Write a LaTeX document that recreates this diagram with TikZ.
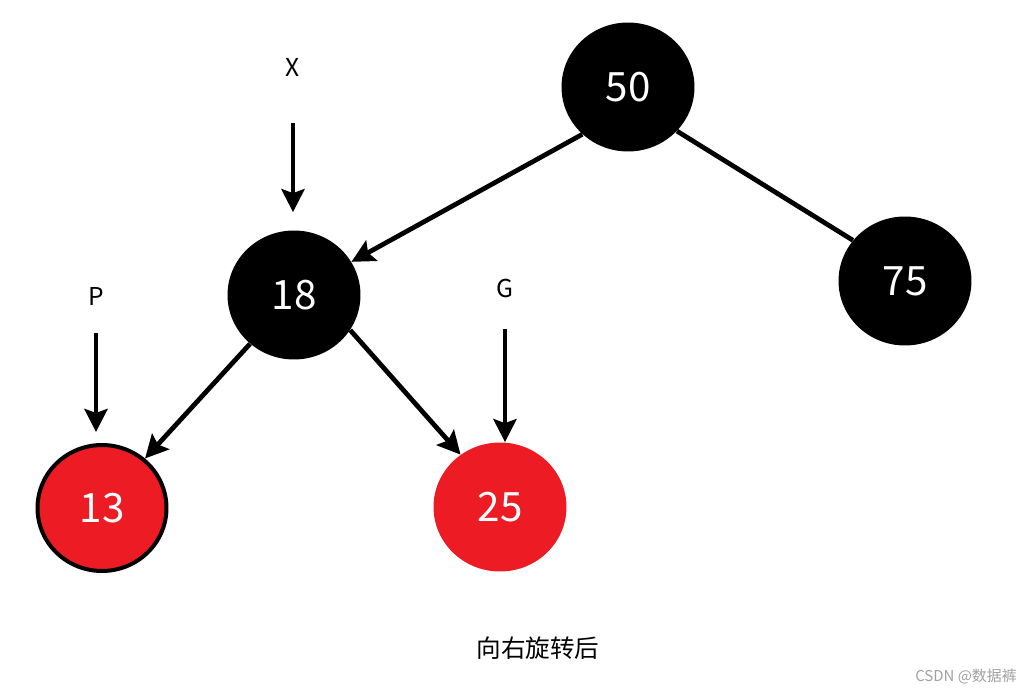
\documentclass[tikz,border=0pt]{standalone}
\usepackage{fontspec}
\setmainfont{Noto Sans CJK SC}
\usetikzlibrary{arrows.meta,positioning,shapes.geometric}
\definecolor{nodered}{HTML}{ED1C24}
\definecolor{wmgray}{HTML}{A0A0A0}

\begin{document}
\begin{tikzpicture}[x=0.02cm,y=-0.02cm,
    blk/.style={ellipse,fill=black,inner sep=0pt,minimum width=2.66cm,minimum height=2.58cm,
      text=white,font=\fontsize{23}{23}\selectfont},
    rednode/.style={blk,fill=nodered},
    ptr/.style={-{Stealth[length=0.46cm,width=0.46cm,inset=0.08cm]},line width=0.095cm},
    lbl/.style={font=\fontsize{14}{14}\selectfont}]
  \useasboundingbox (0,0) rectangle (1028,695);
  % tree after the right rotation
  \node[blk] (n50) at (628,87) {50};
  \node[blk] (n18) at (294,295) {18};
  \node[blk] (n75) at (905,281) {75};
  \node[rednode,draw=black,line width=0.08cm,minimum width=2.58cm,minimum height=2.52cm] (n13) at (102,508) {13};
  \node[rednode] (n25) at (500,507) {25};
  \draw[ptr] (n50.226) -- (n18.30);
  \draw[line width=0.095cm] (n50.-42) -- (n75.142);
  \draw[ptr] (n18.-132) -- (n13.49);
  \draw[ptr] (n18.-32) -- (n25.127);
  % pointer labels
  \node[lbl] (xl) at (293,67) {X};
  \node[lbl] (pl) at (96,296) {P};
  \node[lbl] (gl) at (505,288) {G};
  \draw[ptr,shorten <=0.82cm,shorten >=0.36cm] (xl) -- (xl |- n18.north);
  \draw[ptr,shorten <=0.44cm,shorten >=0.22cm] (pl) -- (pl |- n13.north);
  \draw[ptr,shorten <=0.5cm] (gl) -- (gl |- n25.north);
  \node[font=\fontsize{14}{14}\selectfont] (cap) at (538,648) {向右旋转后};
  \node[text=wmgray,font=\fontsize{8.5}{8.5}\selectfont] (wm) at (966,677) {CSDN @数据裤};
\end{tikzpicture}
\end{document}
